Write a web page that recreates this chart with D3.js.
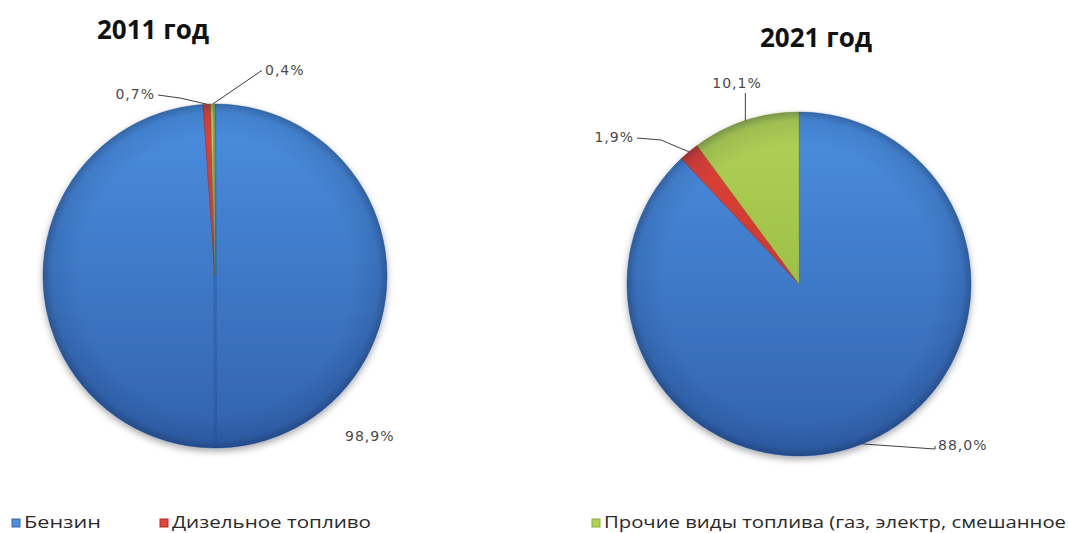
<!DOCTYPE html>
<html lang="ru">
<head>
<meta charset="utf-8">
<script src="https://cdn.jsdelivr.net/npm/d3@7/dist/d3.min.js"></script>
<style>
  html, body { margin: 0; padding: 0; background: #ffffff; }
  svg { display: block; }
</style>
</head>
<body>
<svg id="chart" width="1068" height="533"></svg>
<script>
// Fuel categories (legend order = slice order)
const fuels = ["Бензин", "Дизельное топливо", "Прочие виды топлива (газ, электр, смешанное"];
// Shares of each fuel type, percent
const years = ["2011 год", "2021 год"];
const share2011 = [98.9, 0.7, 0.4];
const share2021 = [88.0, 1.9, 10.1];

// Slice colours: [light, dark] for the vertical shading of each category
const palette = [
  ["#4b8fe0", "#3262ad"],
  ["#e0443a", "#b52a22"],
  ["#b0d257", "#8aad36"]
];

const fmt = v => d3.format(".1f")(v).replace(".", ",") + "%";

const svg = d3.select("#chart");
const defs = svg.append("defs");

defs.append("filter").attr("id", "shadow")
  .attr("x", "-20%").attr("y", "-20%").attr("width", "140%").attr("height", "140%")
  .append("feDropShadow")
  .attr("dx", 0).attr("dy", 3).attr("stdDeviation", 3.5)
  .attr("flood-color", "#000").attr("flood-opacity", 0.35);

defs.append("filter").attr("id", "soft")
  .append("feGaussianBlur").attr("stdDeviation", 1.2);

// Rim darkening used on top of every pie
const rim = defs.append("radialGradient").attr("id", "rim");
rim.append("stop").attr("offset", "0.80").attr("stop-color", "#001030").attr("stop-opacity", 0);
rim.append("stop").attr("offset", "0.95").attr("stop-color", "#001030").attr("stop-opacity", 0.10);
rim.append("stop").attr("offset", "1").attr("stop-color", "#001030").attr("stop-opacity", 0.30);

// Pie layout: centre, radius, title and label placement per year
const pies = [
  {
    values: share2011, title: years[0], cx: 215, cy: 276, r: 172, seam: true,
    titleX: 153, titleY: 39,
    // label text position relative to centre + optional leader elbow
    labels: [
      { tx: 130, ty: 165, anchor: "start", leader: false },
      { tx: -60, ty: -177, anchor: "end", elbow: [-35, -178], leader: true },
      { tx: 50, ty: -201, anchor: "start", elbow: [46, -205], leader: true }
    ]
  },
  {
    values: share2021, title: years[1], cx: 799, cy: 284, r: 172, seam: false,
    titleX: 816, titleY: 47,
    labels: [
      { tx: 139, ty: 166, anchor: "start", elbow: [136, 165], leader: true },
      { tx: -165, ty: -142, anchor: "end", elbow: [-138, -144], leader: true },
      { tx: -62, ty: -196, anchor: "middle", vertical: true, leader: true }
    ]
  }
];

const pieGen = d3.pie().sort(null).value(d => d);

pies.forEach((p, pi) => {
  // per-pie vertical gradients so the shading spans the whole disc
  palette.forEach((c, i) => {
    const g = defs.append("linearGradient")
      .attr("id", `grad${pi}_${i}`)
      .attr("gradientUnits", "userSpaceOnUse")
      .attr("x1", 0).attr("y1", -p.r).attr("x2", 0).attr("y2", p.r);
    g.append("stop").attr("offset", "0").attr("stop-color", c[0]);
    g.append("stop").attr("offset", "1").attr("stop-color", c[1]);
  });

  const arcs = pieGen(p.values);
  const arc = d3.arc().innerRadius(0).outerRadius(p.r);
  const g = svg.append("g").attr("transform", `translate(${p.cx},${p.cy})`);

  const body = g.append("g").attr("filter", "url(#shadow)");
  body.selectAll("path.slice")
    .data(arcs)
    .join("path")
    .attr("class", "slice")
    .attr("d", arc)
    .attr("fill", (d, i) => `url(#grad${pi}_${i})`)
    .attr("stroke", (d, i) => d3.color(palette[i][1]).darker(0.3))
    .attr("stroke-width", 0.8)
    .attr("stroke-opacity", 0.6);

  // darker rim for the bevelled look
  g.append("circle").attr("r", p.r).attr("fill", "url(#rim)").attr("pointer-events", "none");

  if (p.seam) {
    g.append("line")
      .attr("x1", -1).attr("y1", -p.r + 2).attr("x2", 1).attr("y2", p.r - 2)
      .attr("stroke", "#1d4785").attr("stroke-width", 2.5).attr("stroke-opacity", 0.45)
      .attr("filter", "url(#soft)");
  }

  // data labels with leader lines
  arcs.forEach((d, i) => {
    const L = p.labels[i];
    const mid = (d.startAngle + d.endAngle) / 2;
    const ax = Math.sin(mid) * p.r, ay = -Math.cos(mid) * p.r;
    if (L.leader) {
      let pts;
      if (L.vertical) {
        pts = [[ax, ay], [ax, L.ty + 5]];
      } else {
        const endX = L.anchor === "end" ? L.tx + 3 : L.tx - 3;
        pts = [[ax, ay], L.elbow, [endX, L.ty - 4]];
      }
      g.append("path")
        .attr("d", d3.line()(pts))
        .attr("fill", "none")
        .attr("stroke", "#404040")
        .attr("stroke-width", 1);
    }
    g.append("text")
      .attr("x", L.tx).attr("y", L.ty)
      .attr("text-anchor", L.anchor)
      .attr("font-family", "'DejaVu Sans', sans-serif")
      .attr("font-size", 14)
      .attr("letter-spacing", 1)
      .attr("fill", "#4a4a4a")
      .text(fmt(d.data));
  });

  svg.append("text")
    .attr("x", p.titleX).attr("y", p.titleY)
    .attr("text-anchor", "middle")
    .attr("font-family", "'Open Sans', sans-serif")
    .attr("font-weight", 700)
    .attr("font-size", 26)
    .attr("fill", "#111")
    .text(p.title);
});

// Legends: first two fuels under the 2011 pie, third under the 2021 pie
const legendItems = [
  { i: 0, x: 12, w: 77 },
  { i: 1, x: 160, w: 199 },
  { i: 2, x: 592, w: 462 }
];
const lg = svg.append("g").attr("class", "legend");
legendItems.forEach(it => {
  const c = palette[it.i];
  lg.append("rect")
    .attr("x", it.x).attr("y", 519).attr("width", 8).attr("height", 8)
    .attr("fill", c[0]).attr("stroke", c[1]).attr("stroke-width", 1);
  lg.append("text")
    .attr("x", it.x + 12).attr("y", 528)
    .attr("font-family", "'Open Sans', sans-serif")
    .attr("font-size", 16)
    .attr("fill", "#2a2a2a")
    .attr("textLength", it.w)
    .attr("lengthAdjust", "spacingAndGlyphs")
    .text(fuels[it.i]);
});
</script>
</body>
</html>
